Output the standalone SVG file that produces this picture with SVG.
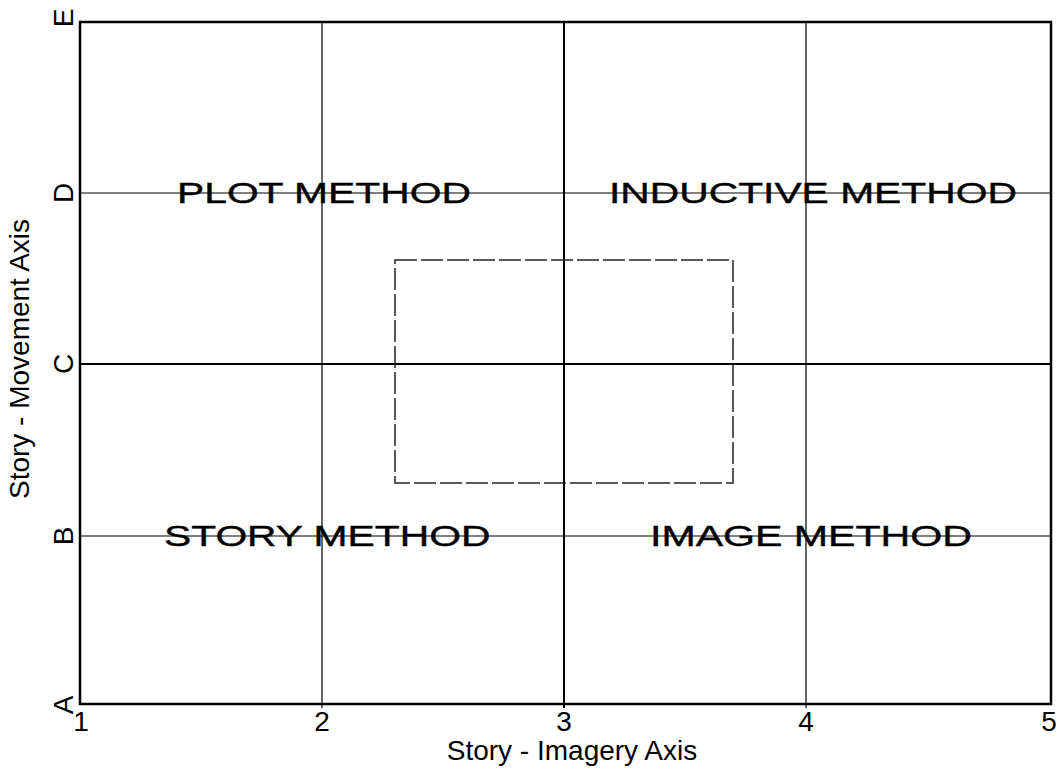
<svg xmlns="http://www.w3.org/2000/svg" width="1059" height="774" viewBox="0 0 1059 774">
<style>
.frame{fill:none;stroke:#000;stroke-width:2.5}
.grid{stroke:#000;stroke-width:1.2;fill:none}
.gridb{stroke:#000;stroke-width:2;fill:none}
.dash{fill:none;stroke:#222;stroke-width:1.5;stroke-dasharray:22 4}
.lbl{font-family:"Liberation Sans",Arial,sans-serif;font-size:30px;fill:#000;stroke:#000;stroke-width:0.4}
.tick{font-family:"Liberation Sans",Arial,sans-serif;font-size:28px;fill:#000}
.axis{font-family:"Liberation Sans",Arial,sans-serif;font-size:28px;fill:#000}
</style>
<rect width="1059" height="774" fill="#fff"/>
<g id="connectors">
<line class="grid" x1="322" y1="22" x2="322" y2="708"/>
<line class="gridb" x1="564" y1="22" x2="564" y2="708"/>
<line class="grid" x1="806" y1="22" x2="806" y2="708"/>
<line class="grid" x1="80" y1="193" x2="1051" y2="193"/>
<line class="gridb" x1="80" y1="364" x2="1051" y2="364"/>
<line class="grid" x1="80" y1="536" x2="1051" y2="536"/>
</g>
<g id="frame"><rect class="frame" x="80" y="22" width="971" height="682"/></g>
<g id="focus-box"><rect class="dash" x="395" y="260" width="338" height="223"/></g>
<g id="plot-method"><text class="lbl" transform="translate(177,203) scale(1.36,1)">PLOT METHOD</text></g>
<g id="inductive-method"><text class="lbl" transform="translate(609,203) scale(1.36,1)">INDUCTIVE METHOD</text></g>
<g id="story-method"><text class="lbl" transform="translate(164,546) scale(1.36,1)">STORY METHOD</text></g>
<g id="image-method"><text class="lbl" transform="translate(650,546) scale(1.37,1)">IMAGE METHOD</text></g>
<g id="x-ticks" text-anchor="middle">
<text class="tick" x="81" y="731">1</text>
<text class="tick" x="322" y="731">2</text>
<text class="tick" x="564" y="731">3</text>
<text class="tick" x="806" y="731">4</text>
<text class="tick" x="1049" y="731">5</text>
</g>
<g id="y-ticks" text-anchor="middle">
<text class="tick" transform="translate(73,705) rotate(-90)">A</text>
<text class="tick" transform="translate(73,536) rotate(-90)">B</text>
<text class="tick" transform="translate(73,364) rotate(-90)">C</text>
<text class="tick" transform="translate(73,193) rotate(-90)">D</text>
<text class="tick" transform="translate(73,18) rotate(-90)">E</text>
</g>
<g id="x-axis-label"><text class="axis" x="572" y="760" text-anchor="middle" font-size="29">Story - Imagery Axis</text></g>
<g id="y-axis-label"><text class="axis" transform="translate(29,359) rotate(-90)" text-anchor="middle" font-size="27">Story - Movement Axis</text></g>
</svg>
